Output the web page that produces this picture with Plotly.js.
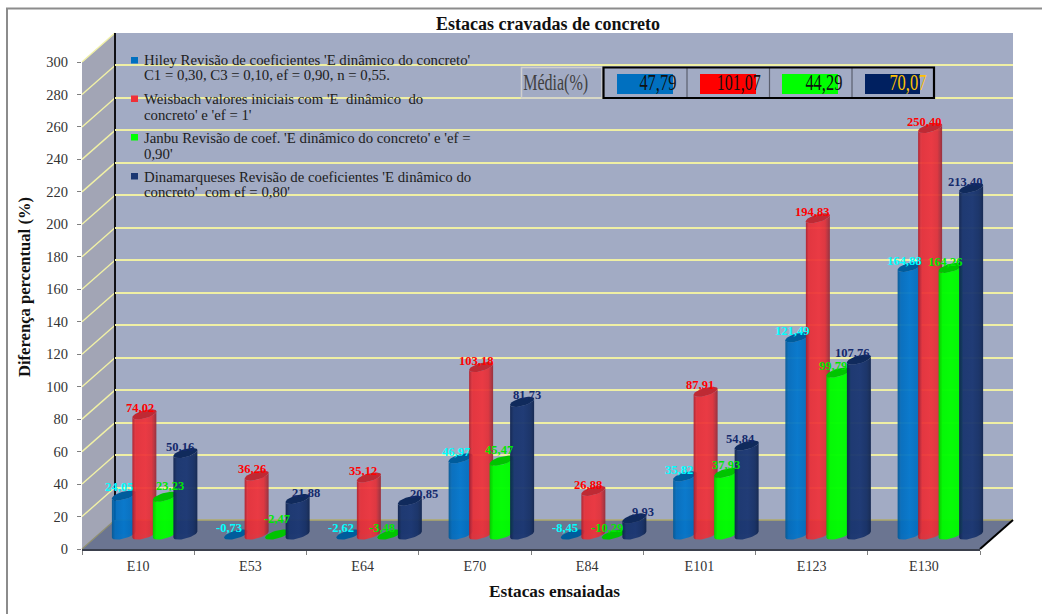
<!DOCTYPE html>
<html>
<head>
<meta charset="utf-8">
<script src="https://cdn.plot.ly/plotly-3.0.1.min.js"></script>
<style>html,body{margin:0;padding:0;background:#fff}#chart{width:1042px;height:614px}</style>
</head>
<body>
<div id="chart"></div>
<script>
// Driven-pile comparison: percentage difference per tested pile and per dynamic formula.
const categories = ['E10','E53','E64','E70','E84','E101','E123','E130'];
const hiley = [24.05,-0.73,-2.62,46.97,-8.45,35.82,121.49,164.88];
const weisbach = [74.02,36.26,35.12,103.18,26.88,87.91,194.83,250.40];
const janbu = [23.23,-2.47,-3.48,45.47,-10.29,37.93,99.79,164.26];
const dinamarqueses = [50.16,21.88,20.85,81.73,9.93,54.84,107.76,213.40];
const yTicks = [0,20,40,60,80,100,120,140,160,180,200,220,240,260,280,300];
const meanLabels = ['47,79','101,07','44,29','70,07'];

const legendLines = [
  ["Hiley Revisão de coeficientes 'E dinâmico do concreto'", "C1 = 0,30, C3 = 0,10, ef = 0,90, n = 0,55."],
  ["Weisbach valores iniciais com 'E  dinâmico  do", "concreto' e 'ef = 1'"],
  ["Janbu Revisão de coef. 'E dinâmico do concreto' e 'ef =", "0,90'"],
  ["Dinamarqueses Revisão de coeficientes 'E dinâmico do", "concreto'  com ef = 0,80'"]
];

// Pixel geometry of the fake 3-D box: front plane, bar plane (half depth) and back wall.
const W = 1042, H = 614;
const FRONT = {x0:82, x1:980, y0:549, y1:62};
const DEPTH = {x:33, y:-29};
const FONT = 'Liberation Serif, Times New Roman, serif';
const px = x => x / W, py = y => 1 - y / H;
const P = (x, y) => px(x) + ' ' + py(y);

const pxPerCat = (FRONT.x1 - FRONT.x0) / categories.length;
const pxPerUnit = (FRONT.y0 - FRONT.y1) / 300;
const cyl = {half:12, step:20.5, tilt:3, open:4.1};

// Per-series styling; gradients run across the cylinder width.
const seriesStyle = [
  {values:hiley, label:'#00FFFF', bar:'#0070C0', cap:'#005C9C',
   grad:[[0,'rgba(0,88,150,.92)'],[.14,'rgba(0,108,190,.9)'],[.5,'rgba(0,118,205,.9)'],[.85,'rgba(0,108,190,.9)'],[1,'rgba(0,80,140,.92)']]},
  {values:weisbach, label:'#FF0000', bar:'#F03038', cap:'#BE2A34',
   grad:[[0,'rgba(176,24,36,.9)'],[.12,'rgba(232,44,52,.88)'],[.55,'rgba(240,48,56,.88)'],[.8,'rgba(226,46,54,.88)'],[1,'rgba(150,36,48,.9)']]},
  {values:janbu, label:'#00E800', bar:'#00FF00', cap:'#00C400',
   grad:[[0,'rgba(0,205,0,.95)'],[.14,'rgba(0,250,0,.95)'],[.5,'rgba(0,255,0,.95)'],[.86,'rgba(0,250,0,.95)'],[1,'rgba(0,195,0,.95)']]},
  {values:dinamarqueses, label:'#14296B', bar:'#1A3672', cap:'#102A5C',
   grad:[[0,'rgba(14,34,78,.95)'],[.16,'rgba(24,52,110,.93)'],[.55,'rgba(26,54,114,.93)'],[.82,'rgba(22,48,102,.93)'],[1,'rgba(16,36,78,.95)']]}
];

// Label nudges in pixels relative to the cap centre: one row per series, one column per pile.
const labelDx = [
  [-5,-7,-7,-5,-7.5,-6,-5.7,-6],
  [-4,-5,-5.5,-5,-5,-5.6,-6,-6],
  [5,0,-7,-3,-7,0,-5.4,-6],
  [-5,8,14,5,9,-6,-6.5,-6.4]
];
const labelDy = [
  [-8,-6.5,-6.5,-6.3,-6.5,-6.4,-6.3,-6],
  [-6,-6.6,-6.5,-6,-6,-6.8,-6,-6],
  [-11,-15.5,-6.5,-10.7,-6.5,-8,-6.5,-6],
  [-6,-6.3,-6.7,-6.8,-6.4,-6.5,-6.6,-6]
];

const traces = [];
const annotations = [];
const shapes = [];
const axes = {};

// Front plane: carries the visible tick labels.
axes.xaxis = {
  type:'category', domain:[px(FRONT.x0), px(FRONT.x1)], anchor:'y', range:[-0.5,7.5],
  categoryorder:'array', categoryarray:categories, tickson:'boundaries', fixedrange:true,
  ticks:'outside', ticklen:4, tickcolor:'#808080', tickwidth:1, showgrid:false, zeroline:false,
  showline:true, linecolor:'#3A3F4C', linewidth:2, ticklabelstandoff:3,
  tickfont:{family:FONT, size:14, color:'#333'}
};
axes.yaxis = {
  domain:[py(FRONT.y0), py(FRONT.y1)], anchor:'x', range:[0,300], fixedrange:true,
  tickmode:'array', tickvals:yTicks, ticktext:yTicks.map(String),
  ticks:'outside', ticklen:4, tickcolor:'#808080', tickwidth:1, showgrid:false, zeroline:false,
  showline:false, ticklabelstandoff:6, tickfont:{family:FONT, size:14.5, color:'#333'}
};
traces.push({type:'scatter', mode:'none', x:categories, y:categories.map(() => 0), xaxis:'x', yaxis:'y', hoverinfo:'skip', showlegend:false});

// Back wall: gridlines only, on its own plane so the depth offset holds.
axes.xaxis2 = {domain:[px(FRONT.x0+DEPTH.x), px(FRONT.x1+DEPTH.x)], range:[-0.5,7.5], anchor:'y2', visible:false, fixedrange:true};
axes.yaxis2 = {
  domain:[py(FRONT.y0+DEPTH.y), py(FRONT.y1+DEPTH.y)], range:[0,300], anchor:'x2', fixedrange:true,
  tickmode:'array', tickvals:yTicks.slice(1), showticklabels:false, ticks:'', showline:false, zeroline:false,
  showgrid:true, gridcolor:'#EFEFA4', gridwidth:2
};
traces.push({type:'scatter', mode:'none', x:[0], y:[0], xaxis:'x2', yaxis:'y2', hoverinfo:'skip', showlegend:false});

// Cylinder outlines, expressed in data units of the bar plane.
const toX = d => d / pxPerCat, toY = d => d / pxPerUnit;
function ellipsePoint(t) {
  return [cyl.half * Math.cos(t), -cyl.tilt * Math.cos(t) + cyl.open * Math.sin(t)];
}
function capOutline(xc, v) {
  const xs = [], ys = [];
  for (let i = 0; i <= 36; i++) {
    const [dx, dy] = ellipsePoint(i / 36 * 2 * Math.PI);
    xs.push(xc + toX(dx)); ys.push(v - toY(dy));
  }
  return {xs, ys};
}
function bodyOutline(xc, v) {
  const xs = [], ys = [];
  // lower rim, right side round to left side
  for (let i = 0; i <= 18; i++) {
    const [dx, dy] = ellipsePoint(i / 18 * Math.PI);
    xs.push(xc + toX(dx)); ys.push(0 - toY(dy));
  }
  // up the left edge and across the upper rim
  for (let i = 18; i >= 0; i--) {
    const [dx, dy] = ellipsePoint(i / 18 * Math.PI);
    xs.push(xc + toX(dx)); ys.push(v - toY(dy));
  }
  xs.push(xs[0]); ys.push(ys[0]);
  return {xs, ys};
}

// Each series gets two stacked axis pairs: one holds the bars, cut off at zero like the
// value axis, the other reaches a little under zero so the lower rims stay whole.
const catIndex = categories.map((_, j) => j);
const RIM_UNITS = 8;
seriesStyle.forEach((s, i) => {
  const barN = 3 + 2 * i, rimN = 4 + 2 * i;
  const xBar = 'x' + barN, yBar = 'y' + barN, xRim = 'x' + rimN, yRim = 'y' + rimN;
  const xDomain = [px(FRONT.x0+DEPTH.x/2), px(FRONT.x1+DEPTH.x/2)];
  const midY0 = FRONT.y0 + DEPTH.y/2, midY1 = FRONT.y1 + DEPTH.y/2;
  axes['xaxis' + barN] = {domain:xDomain, range:[-0.5,7.5], anchor:yBar, visible:false, fixedrange:true};
  axes['yaxis' + barN] = {domain:[py(midY0), py(midY1)], range:[0,300], anchor:xBar, visible:false, fixedrange:true};
  axes['xaxis' + rimN] = {domain:xDomain, range:[-0.5,7.5], anchor:yRim, visible:false, fixedrange:true};
  axes['yaxis' + rimN] = {domain:[py(midY0 + RIM_UNITS * pxPerUnit), py(midY1)], range:[-RIM_UNITS,300], anchor:xRim, visible:false, fixedrange:true};

  const shift = (i - 1.5) * cyl.step;
  traces.push({
    type:'bar', x:catIndex, y:s.values, xaxis:xBar, yaxis:yBar,
    width:toX(17), offset:toX(shift - 8.5),
    marker:{color:s.bar, opacity:.3, line:{width:0}}, hoverinfo:'skip', showlegend:false
  });
  s.values.forEach((val, j) => {
    const v = Math.max(val, 0);
    const xc = j + toX(shift);
    if (v > 0) {
      const b = bodyOutline(xc, v);
      traces.push({
        type:'scatter', mode:'lines', x:b.xs, y:b.ys, xaxis:xRim, yaxis:yRim,
        line:{width:0}, fill:'toself', fillgradient:{type:'horizontal', colorscale:s.grad},
        hoverinfo:'skip', showlegend:false
      });
    }
    const c = capOutline(xc, v);
    traces.push({
      type:'scatter', mode:'lines', x:c.xs, y:c.ys, xaxis:xRim, yaxis:yRim,
      line:{width:0}, fill:'toself', fillcolor:s.cap,
      hoverinfo:'skip', showlegend:false
    });
    annotations.push({
      xref:xRim, yref:yRim, x:j, y:v, xshift:shift + labelDx[i][j], yshift:-labelDy[i][j],
      text:'<b>' + val.toFixed(2).replace('.', ',') + '</b>', showarrow:false,
      xanchor:'center', yanchor:'middle',
      font:{family:FONT, size:12.5, color:s.label}
    });
  });
});

// Box walls, drawn under every axis layer.
const bx0 = FRONT.x0 + DEPTH.x, bx1 = FRONT.x1 + DEPTH.x;
const by0 = FRONT.y0 + DEPTH.y, by1 = FRONT.y1 + DEPTH.y;
const polygon = (pts, fill) => ({type:'path', xref:'paper', yref:'paper', layer:'below', line:{width:0},
  fillcolor:fill, path:'M ' + pts.map(p => P(p[0], p[1])).join(' L ') + ' Z'});
const segment = (x0, y0, x1, y1, color, width, layer) => ({type:'line', xref:'paper', yref:'paper', layer:layer || 'below',
  x0:px(x0), y0:py(y0), x1:px(x1), y1:py(y1), line:{color, width}});

shapes.push(polygon([[bx0,by1],[bx1,by1],[bx1,by0],[bx0,by0]], '#A2ABC4'));
shapes.push(polygon([[FRONT.x0,FRONT.y1],[bx0,by1],[bx0,by0],[FRONT.x0,FRONT.y0]], '#A2A5B5'));
shapes.push(polygon([[FRONT.x0,FRONT.y0],[FRONT.x1,FRONT.y0],[bx1,by0],[bx0,by0]], '#6B7591'));
yTicks.slice(1).forEach(t => {
  const y = FRONT.y0 - t * pxPerUnit;
  shapes.push(segment(FRONT.x0, y, bx0, y + DEPTH.y, '#F1F1A6', 1.4));
});
shapes.push(segment(bx0, by0, bx1, by0, '#AFAA6A', 1.4));
shapes.push(segment(FRONT.x0, FRONT.y0, bx0, by0, '#8F8F70', 1.2));
shapes.push(segment(bx0, by1, bx0, by0, '#101014', 2));
shapes.push(segment(FRONT.x1, FRONT.y0, bx1, by0, '#000000', 2));

// Outer chart frame: top and left edges only.
shapes.push({type:'path', xref:'paper', yref:'paper', layer:'below', line:{color:'#8C8C8C', width:2},
  path:'M ' + P(1042,8.5) + ' L ' + P(7,8.5) + ' L ' + P(7,614)});

// Legend block inside the back wall.
const swatchTop = [57, 95.5, 134, 173];
const lineY = [[59.5,75.5],[98.7,114.7],[137.7,154],[176.7,192.3]];
seriesStyle.forEach((s, i) => {
  const sw = i === 1 ? '#F03038' : s.bar;
  shapes.push({type:'rect', xref:'paper', yref:'paper', layer:'above', line:{width:0}, fillcolor:sw,
    x0:px(131), x1:px(138), y0:py(swatchTop[i]), y1:py(swatchTop[i]+6.5)});
  legendLines[i].forEach((txt, k) => annotations.push({
    xref:'paper', yref:'paper', x:px(141.5), y:py(lineY[i][k]), xanchor:'left', yanchor:'middle',
    text:txt, showarrow:false, font:{family:FONT, size:14.8, color:'#202020'}
  }));
});

// Mean-value strip.
const stripX = [603.5, 687, 769.5, 852, 934];
const stripFill = ['#0070C0','#FF0000','#00FF00','#002060'];
const stripRect = [[617,673],[700,756],[782,838],[865,920]];
const stripText = [[658.3,37],[738,44],[824.3,37],[908,37]];
const stripColor = ['#111','#111','#111','#FFC000'];
shapes.push({type:'rect', xref:'paper', yref:'paper', layer:'above', fillcolor:'rgba(0,0,0,0)', line:{color:'#CFCFCF', width:1.5},
  x0:px(521.5), x1:px(602), y0:py(67.5), y1:py(98)});
stripFill.forEach((c, i) => {
  shapes.push({type:'rect', xref:'paper', yref:'paper', layer:'above', line:{width:0}, fillcolor:c,
    x0:px(stripRect[i][0]), x1:px(stripRect[i][1]), y0:py(74), y1:py(94)});
  if (i > 0) shapes.push(segment(stripX[i], 68, stripX[i], 98, '#5A5F6E', 1.2, 'above'));
  annotations.push({xref:'paper', yref:'paper', x:px(stripText[i][0]), y:py(82), xanchor:'center', yanchor:'middle',
    text:meanLabels[i], showarrow:false, font:{family:FONT, size:23, color:stripColor[i]}});
});
shapes.push({type:'rect', xref:'paper', yref:'paper', layer:'above', fillcolor:'rgba(0,0,0,0)', line:{color:'#000', width:2.2},
  x0:px(603.5), x1:px(934), y0:py(67.5), y1:py(98)});
annotations.push({xref:'paper', yref:'paper', x:px(555.8), y:py(82), xanchor:'center', yanchor:'middle',
  text:'Média(%)', showarrow:false, font:{family:FONT, size:23, color:'#404040'}});

// Axis captions sit off-centre relative to the front plane, so they are placed directly.
annotations.push({xref:'paper', yref:'paper', x:px(554), y:py(591), xanchor:'center', yanchor:'middle',
  text:'<b>Estacas ensaiadas</b>', showarrow:false, font:{family:FONT, size:17.3, color:'#111'}});
annotations.push({xref:'paper', yref:'paper', x:px(24), y:py(287), xanchor:'center', yanchor:'middle', textangle:-90,
  text:'<b>Diferença percentual (%)</b>', showarrow:false, font:{family:FONT, size:16.6, color:'#111'}});

const layout = Object.assign({
  width:W, height:H, margin:{l:0,r:0,t:0,b:0,pad:0}, autosize:false,
  paper_bgcolor:'#FFFFFF', plot_bgcolor:'rgba(0,0,0,0)', showlegend:false, barmode:'overlay',
  title:{text:'<b>Estacas cravadas de concreto</b>', x:px(548), xref:'paper', xanchor:'center', y:py(24), yref:'paper', yanchor:'middle',
    font:{family:FONT, size:18, color:'#111'}},
  hovermode:false, shapes, annotations
}, axes);

Plotly.newPlot('chart', traces, layout, {staticPlot:true, displayModeBar:false}).then(() => {
  // The strip's figures are set in a condensed cut: squeeze the glyphs to their cell width.
  const widths = {};
  meanLabels.forEach((t, i) => { widths[t] = stripText[i][1]; });
  widths['Média(%)'] = 65;
  document.querySelectorAll('#chart .annotation-text').forEach(el => {
    const w = widths[el.textContent];
    if (w) { el.setAttribute('textLength', w); el.setAttribute('lengthAdjust', 'spacingAndGlyphs'); }
  });
});
</script>
</body>
</html>
